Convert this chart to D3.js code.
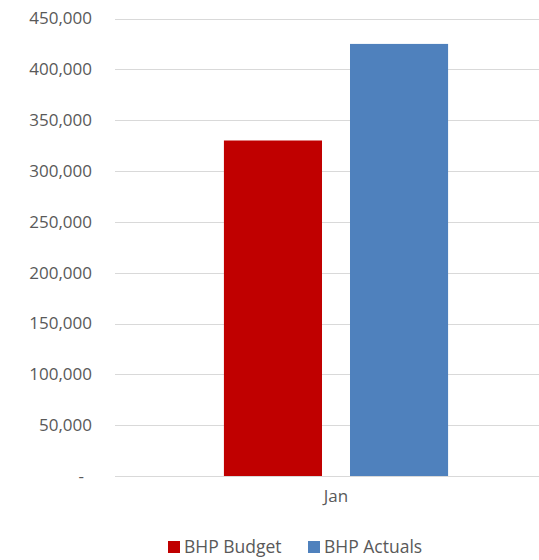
<!DOCTYPE html>
<html>
<head>
<meta charset="utf-8">
<script src="https://cdn.jsdelivr.net/npm/d3@7"></script>
<style>
  body { margin: 0; background: #fff; }
  svg { display: block; font-family: "Open Sans", sans-serif; }
</style>
</head>
<body>
<div id="chart"></div>
<script>
const categories = ["Jan"];
const seriesNames = ["BHP Budget", "BHP Actuals"];
const budgetValues = [330000];
const actualValues = [425000];
const seriesColors = ["#C00000", "#4F81BD"];
const yTicks = [0, 50000, 100000, 150000, 200000, 250000, 300000, 350000, 400000, 450000];

const width = 539, height = 560;

const svg = d3.select("#chart").append("svg")
    .attr("width", width)
    .attr("height", height);

const y = d3.scaleLinear().domain([0, 450000]).range([476, 18.5]);

// category band, extends a bit past the right edge like the original
const x0 = d3.scaleBand().domain(categories).range([115, 557]).padding(0.327);
const x1 = d3.scaleBand().domain(seriesNames).range([0, x0.bandwidth()]).paddingInner(0.222).paddingOuter(0);

// gridlines
svg.append("g")
    .selectAll("line")
    .data(yTicks)
    .join("line")
    .attr("x1", 115)
    .attr("x2", width)
    .attr("y1", d => Math.round(y(d)) + 0.5)
    .attr("y2", d => Math.round(y(d)) + 0.5)
    .attr("stroke", "#d9d9d9")
    .attr("stroke-width", 1);

// y axis labels
const fmt = d3.format(",");
const yAxis = d3.axisLeft(y).tickValues(yTicks).tickSize(0).tickPadding(0)
    .tickFormat(d => d === 0 ? "-" : fmt(d));
const yg = svg.append("g").attr("transform", "translate(92,0)").call(yAxis);
yg.select(".domain").remove();
yg.selectAll("text")
    .attr("fill", "#595959")
    .style("font-size", "17px")
    .style("font-family", "Open Sans, sans-serif");
yg.selectAll(".tick text").filter(d => d === 0).attr("dx", "-8px");

// bars
const rows = categories.map((c, i) => ({
    cat: c,
    vals: [budgetValues[i], actualValues[i]]
}));

const groups = svg.append("g")
    .selectAll("g")
    .data(rows)
    .join("g")
    .attr("transform", d => `translate(${x0(d.cat)},0)`);

groups.selectAll("rect")
    .data(d => d.vals.map((v, i) => ({ name: seriesNames[i], value: v, color: seriesColors[i] })))
    .join("rect")
    .attr("x", d => x1(d.name))
    .attr("width", x1.bandwidth())
    .attr("y", d => y(d.value))
    .attr("height", d => y(0) - y(d.value))
    .attr("fill", d => d.color);

// x axis labels
const xAxis = d3.axisBottom(x0).tickSize(0).tickPadding(0);
const xg = svg.append("g").attr("transform", "translate(0,490)").call(xAxis);
xg.select(".domain").remove();
xg.selectAll("text")
    .attr("fill", "#595959")
    .style("font-size", "17px")
    .style("font-family", "Open Sans, sans-serif");

// legend
const legendX = [168, 308];
const legend = svg.append("g")
    .selectAll("g")
    .data(seriesNames)
    .join("g")
    .attr("transform", (d, i) => `translate(${legendX[i]},547)`);

legend.append("rect")
    .attr("x", 0)
    .attr("y", -6)
    .attr("width", 12)
    .attr("height", 12)
    .attr("fill", (d, i) => seriesColors[i]);

legend.append("text")
    .attr("x", 16)
    .attr("dy", "0.35em")
    .attr("fill", "#595959")
    .style("font-size", "17.5px")
    .text(d => d);
</script>
</body>
</html>
